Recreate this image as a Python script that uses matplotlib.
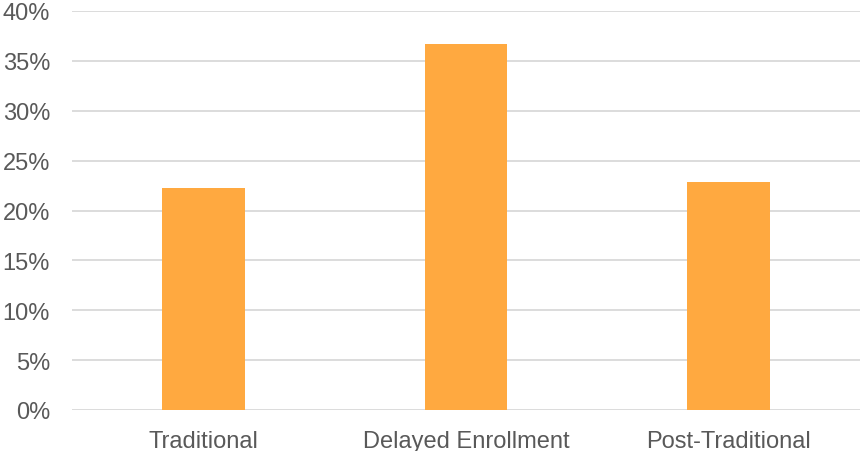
import matplotlib.pyplot as plt
from matplotlib.ticker import FuncFormatter

# donnees
categories = ["Traditional", "Delayed Enrollment", "Post-Traditional"]
valeurs = [22.3, 36.7, 22.9]
ticks_y = [0, 5, 10, 15, 20, 25, 30, 35, 40]

plt.rcParams['font.family'] = ['Liberation Sans', 'DejaVu Sans']

fig = plt.figure(figsize=(8.6, 4.52), dpi=100)
ax = fig.add_axes([72/860, 1-411/452, 1-72/860, (411-12)/452])

ax.bar(range(len(categories)), valeurs, width=0.315, color='#FFA940', zorder=3)

ax.set_xlim(-0.5, len(categories)-0.5)
ax.set_ylim(0, 40)
ax.set_yticks(ticks_y)
ax.yaxis.set_major_formatter(FuncFormatter(lambda v, p: "%d%%" % v))
ax.set_xticks(range(len(categories)))
ax.set_xticklabels(categories)

ax.grid(axis='y', color='#D9D9D9', linewidth=1.3, zorder=0)
for s in ax.spines.values():
    s.set_visible(False)
ax.tick_params(axis='both', length=0, labelsize=17, labelcolor='#595959')
ax.tick_params(axis='y', pad=15.8)
ax.tick_params(axis='x', pad=14.5)

plt.savefig("out.png", dpi=100)
